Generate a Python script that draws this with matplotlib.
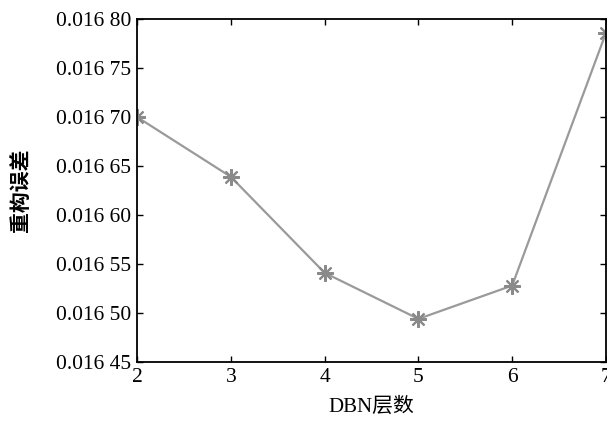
import matplotlib
matplotlib.use('Agg')
import matplotlib.pyplot as plt
from matplotlib.ticker import FuncFormatter

# data
layers = [2, 3, 4, 5, 6, 7]
recon_err = [0.016700, 0.016639, 0.016541, 0.016494, 0.016528, 0.016786]
y_ticks = [0.01645, 0.01650, 0.01655, 0.01660, 0.01665, 0.01670, 0.01675, 0.01680]

plt.rcParams['font.family'] = ['Liberation Serif', 'Noto Sans CJK SC']

fig = plt.figure(figsize=(6.07, 4.29), dpi=100)
ax = fig.add_axes([137 / 607, 1 - 362 / 429, 469 / 607, 343 / 429])

# asterisk markers like the MATLAB '*'
ax.plot(layers, recon_err, color='#9a9a9a', lw=1.6, marker=(8, 2, 0),
        markersize=12, markeredgewidth=1.5, markeredgecolor='#8a8a8a')

ax.set_xlim(2, 7)
ax.set_ylim(0.01645, 0.01680)
ax.set_xticks(layers)
ax.set_yticks(y_ticks)


def fmt(v, pos):
    s = f'{v:.5f}'
    return s[:5] + ' ' + s[5:]


ax.yaxis.set_major_formatter(FuncFormatter(fmt))
ax.tick_params(direction='in', top=True, right=True, length=4, width=1,
               labelsize=15.5, pad=4)
for sp in ax.spines.values():
    sp.set_linewidth(1.3)

ax.set_xlabel('DBN层数', fontsize=15, labelpad=8)
ax.set_ylabel('重构误差', fontsize=15, fontweight='bold', labelpad=18,
              family=['Noto Sans CJK SC'])

fig.savefig('out.png', dpi=100)
